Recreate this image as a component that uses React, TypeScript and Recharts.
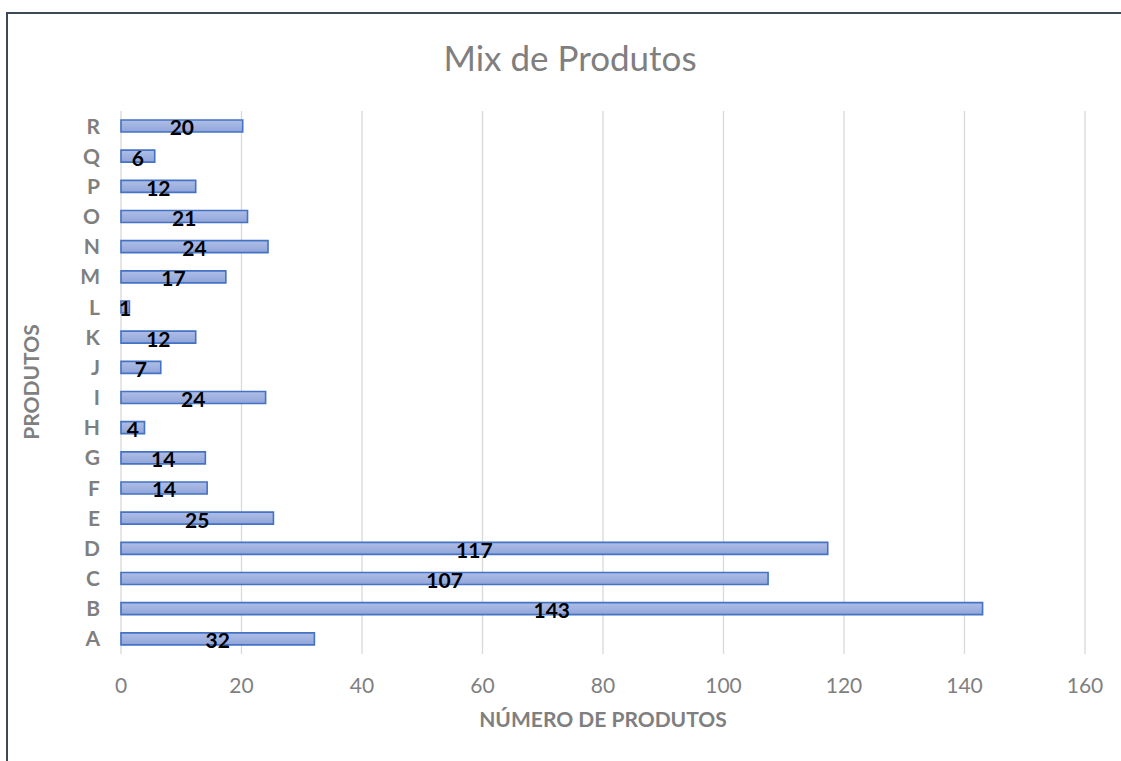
import React from 'react';
import { BarChart, Bar, XAxis, YAxis, CartesianGrid, LabelList } from 'recharts';

const categories = ['A', 'B', 'C', 'D', 'E', 'F', 'G', 'H', 'I', 'J', 'K', 'L', 'M', 'N', 'O', 'P', 'Q', 'R'];
const counts = [32.1, 143.0, 107.4, 117.3, 25.3, 14.3, 14.0, 3.9, 24.0, 6.6, 12.4, 1.4, 17.4, 24.4, 21.0, 12.4, 5.6, 20.2];
const xTicks = [0, 20, 40, 60, 80, 100, 120, 140, 160];

const titleText = 'Mix de Produtos';
const xTitle = 'NÚMERO DE PRODUTOS';
const yTitle = 'PRODUTOS';

const data = categories.map((c, i) => ({ name: c, value: counts[i] }));

const FONT = 'Lato, "Open Sans", sans-serif';
const GRAY = '#7f7f7f';
const FRAME = '#3e4856';

export default function App() {
  return (
    <div style={{ position: 'fixed', left: 0, top: 0, width: 1121, height: 761, overflow: 'hidden', background: '#fff', fontFamily: FONT }}>
      <div style={{ position: 'absolute', left: 6, top: 12, width: 1115, height: 2, background: FRAME }} />
      <div style={{ position: 'absolute', left: 6, top: 12, width: 2, height: 749, background: FRAME }} />
      <div style={{ position: 'absolute', left: 0, top: 0 }}>
        <BarChart
          width={1121}
          height={761}
          data={data}
          layout="vertical"
          margin={{ top: 111, right: 36, bottom: 0, left: 0 }}
          barCategoryGap="60%"
        >
          <defs>
            <linearGradient id="barGrad" x1="0" y1="0" x2="0" y2="1">
              <stop offset="0%" stopColor="#afbee7" />
              <stop offset="100%" stopColor="#90a5d9" />
            </linearGradient>
          </defs>
          <CartesianGrid horizontal={false} vertical={true} stroke="#d9d9d9" strokeWidth={1.3} />
          <XAxis
            type="number"
            domain={[0, 160]}
            ticks={xTicks}
            axisLine={false}
            tickLine={false}
            tickSize={0}
            tickMargin={24}
            height={107}
            interval={0}
            tick={{ fill: GRAY, fontSize: 21, fontFamily: FONT }}
          />
          <YAxis
            type="category"
            dataKey="name"
            reversed
            width={121}
            axisLine={false}
            tickLine={false}
            tickSize={0}
            tickMargin={21}
            interval={0}
            tick={{ fill: GRAY, fontSize: 21, fontWeight: 700, fontFamily: FONT }}
          />
          <Bar dataKey="value" fill="url(#barGrad)" stroke="#4472c4" strokeWidth={1.6} barSize={12} isAnimationActive={false}>
            <LabelList
              dataKey="value"
              position="center"
              formatter={(v: any) => Math.round(Number(v))}
              fill="#000"
              style={{ fontSize: 21, fontWeight: 700, fontFamily: FONT }}
              dy={2}
            />
          </Bar>
        </BarChart>
      </div>
      <div style={{ position: 'absolute', left: 0, width: 1140, top: 36, textAlign: 'center', fontSize: 35, color: GRAY, fontFamily: FONT, lineHeight: '42px' }}>
        {titleText}
      </div>
      <div style={{ position: 'absolute', left: 121, width: 964, top: 706, textAlign: 'center', fontSize: 21, fontWeight: 700, color: GRAY, fontFamily: FONT, lineHeight: '26px' }}>
        {xTitle}
      </div>
      <div style={{ position: 'absolute', left: 31 - 150, top: 382 - 13, width: 300, height: 26, textAlign: 'center', fontSize: 21, fontWeight: 700, color: GRAY, fontFamily: FONT, lineHeight: '26px', transform: 'rotate(-90deg)', transformOrigin: '150px 13px' }}>
        {yTitle}
      </div>
    </div>
  );
}
